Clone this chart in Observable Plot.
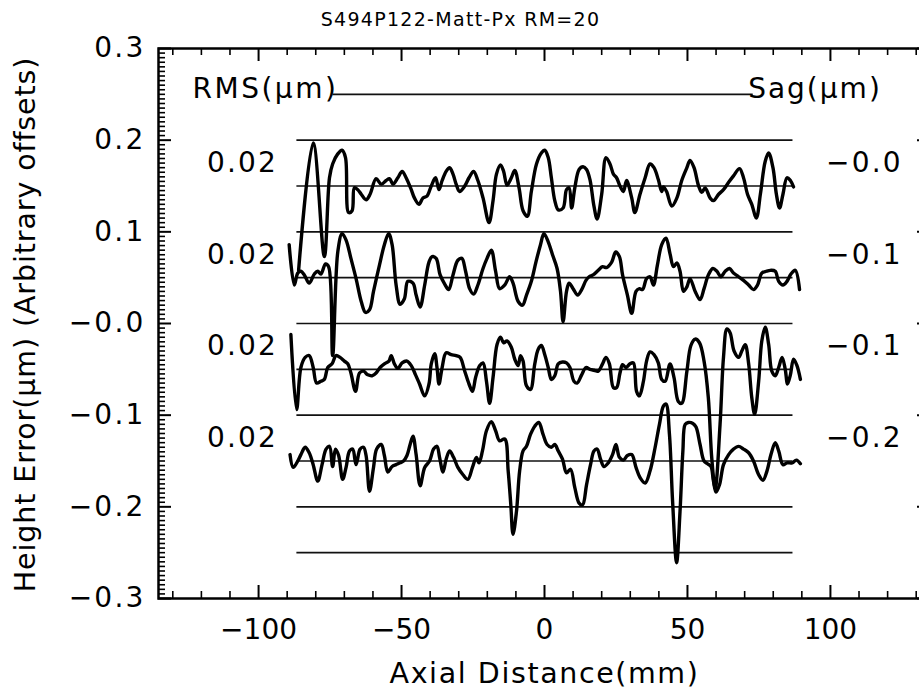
<!DOCTYPE html>
<html><head><meta charset="utf-8">
<script src="https://cdn.jsdelivr.net/npm/d3@7"></script>
<script src="https://cdn.jsdelivr.net/npm/@observablehq/plot@0.6"></script>
<style>html,body{margin:0;padding:0;background:#fff;overflow:hidden}svg{display:block}</style>
</head><body><div id="chart"></div>
<script>
// ---- text ----
const chartTitle = "S494P122-Matt-Px RM=20";
const xTitle = "Axial Distance(mm)";
const yTitle = "Height Error(μm) (Arbitrary offsets)";
const rmsHeader = "RMS(μm)";
const sagHeader = "Sag(μm)";
const rmsLabels = ["0.02", "0.02", "0.02", "0.02"];
const sagLabels = ["−0.0", "−0.1", "−0.1", "−0.2"];

// ---- ticks ----
const xMajor = [-100, -50, 0, 50, 100];
const xTickLabels = ["−100", "−50", "0", "50", "100"];
const xMinor = [-130,-120,-110,-90,-80,-70,-60,-40,-30,-20,-10,10,20,30,40,60,70,80,90,110,120,130];
const yMajor = [0.3, 0.2, 0.1, 0, -0.1, -0.2, -0.3];
const yTickLabels = ["0.3", "0.2", "0.1", "−0.0", "−0.1", "−0.2", "−0.3"];

// ---- reference lines & offsets ----
const refLevels = [0.2, 0.15, 0.1, 0.05, 0, -0.05, -0.1, -0.15, -0.2, -0.25];
const topRefLevel = [0.25];
const offsets = [0.15, 0.05, -0.05, -0.15];

// ---- profiles: [axial distance mm, height error µm] ----
const profileA = [[-86.0,-0.092],[-80.9,0.047],[-77.0,-0.077],[-75.2,0.009],[-74.1,0.024],[-72.3,0.035],[-70.8,0.039],[-69.6,0.031],[-68.5,-0.029],[-67.3,-0.027],[-66.5,-0.002],[-65.3,-0.004],[-64.1,-0.009],[-62.4,-0.015],[-61.0,-0.009],[-58.9,0.008],[-57.1,0.002],[-55.4,0.006],[-54.2,0.008],[-53.0,0.002],[-51.3,0.009],[-49.8,0.016],[-48.4,0.009],[-46.6,-0.004],[-45.5,-0.013],[-43.9,-0.020],[-42.5,-0.013],[-41.1,-0.011],[-39.6,0.000],[-38.1,0.009],[-36.9,-0.004],[-35.8,0.006],[-34.4,0.016],[-33.2,0.020],[-32.0,0.013],[-30.9,0.002],[-29.7,-0.006],[-27.9,0.000],[-26.4,0.009],[-24.8,0.016],[-23.3,0.006],[-21.5,-0.013],[-19.4,-0.040],[-18.0,-0.016],[-16.8,0.013],[-15.4,0.023],[-14.3,0.016],[-13.1,0.001],[-11.6,0.009],[-10.4,0.017],[-8.9,-0.002],[-7.5,-0.027],[-6.0,-0.033],[-4.6,-0.006],[-2.8,0.024],[-1.1,0.036],[0.1,0.039],[1.3,0.031],[2.4,0.009],[3.6,-0.016],[4.8,-0.026],[6.5,-0.024],[7.7,-0.004],[8.6,-0.002],[9.5,-0.024],[10.6,-0.002],[12.1,0.018],[13.5,0.021],[14.7,0.018],[15.9,0.007],[17.3,-0.022],[18.4,-0.036],[20.0,-0.009],[21.5,0.031],[22.9,0.024],[24.1,0.013],[25.2,0.009],[26.4,0.000],[27.6,-0.006],[28.7,0.006],[30.5,-0.013],[31.6,-0.029],[33.4,-0.009],[35.2,0.009],[36.9,0.024],[38.3,0.020],[39.8,0.007],[41.0,-0.006],[41.6,-0.001],[42.7,-0.006],[44.5,-0.022],[46.3,-0.013],[48.0,0.006],[49.8,0.020],[50.9,0.028],[52.3,0.020],[53.9,0.000],[55.0,-0.007],[56.2,-0.002],[57.9,-0.013],[59.1,-0.016],[60.9,-0.009],[62.6,-0.004],[64.4,0.004],[66.1,0.011],[68.2,0.019],[69.6,0.009],[71.0,-0.009],[72.5,-0.020],[74.1,-0.035],[75.5,-0.009],[77.2,0.027],[78.4,0.036],[79.9,0.020],[81.1,-0.009],[82.2,-0.024],[83.4,-0.009],[84.8,0.009],[86.0,0.006],[87.1,-0.001]];

const profileB = [[-89.3,0.036],[-87.5,-0.008],[-86.3,0.005],[-85.2,0.007],[-84.0,0.003],[-82.3,-0.006],[-80.5,0.004],[-79.3,0.007],[-78.2,0.004],[-76.6,0.015],[-75.5,0.012],[-74.1,-0.085],[-72.3,0.028],[-70.8,0.048],[-69.4,0.041],[-67.7,0.021],[-65.9,-0.001],[-64.1,-0.026],[-62.6,-0.038],[-61.2,-0.035],[-59.8,-0.015],[-57.7,0.014],[-56.0,0.036],[-54.5,0.048],[-53.3,0.036],[-51.9,-0.008],[-50.5,-0.029],[-49.0,-0.023],[-47.8,-0.004],[-46.0,-0.006],[-44.9,-0.019],[-43.5,-0.032],[-41.9,-0.008],[-40.4,0.017],[-39.3,0.023],[-37.9,0.021],[-36.5,0.003],[-34.9,-0.007],[-33.5,-0.013],[-32.0,0.003],[-30.3,0.019],[-28.9,0.021],[-27.6,0.007],[-26.2,-0.012],[-24.8,-0.018],[-23.3,-0.008],[-21.5,0.010],[-20.1,0.021],[-18.6,0.030],[-17.1,0.007],[-15.7,-0.012],[-13.9,-0.008],[-12.2,0.001],[-11.0,-0.006],[-9.2,-0.026],[-7.7,-0.030],[-6.3,-0.019],[-4.6,-0.004],[-3.0,0.017],[-1.4,0.036],[-0.2,0.048],[1.3,0.039],[2.8,0.025],[4.4,0.010],[5.6,-0.015],[6.5,-0.048],[7.7,-0.015],[8.6,-0.006],[10.0,-0.012],[11.6,-0.019],[13.0,-0.013],[14.5,-0.003],[15.6,0.001],[17.0,0.003],[18.8,0.008],[20.3,0.012],[21.7,0.011],[23.5,0.017],[24.9,0.028],[26.2,0.023],[27.3,0.003],[29.0,-0.019],[30.5,-0.039],[32.0,-0.015],[33.2,-0.012],[34.3,-0.013],[35.7,-0.001],[36.9,0.001],[38.1,-0.008],[39.5,0.014],[41.0,0.036],[42.5,0.043],[43.9,0.026],[45.1,0.012],[46.3,0.016],[47.4,0.007],[48.6,-0.015],[49.8,-0.010],[50.9,-0.001],[52.7,-0.015],[54.4,-0.024],[55.8,-0.012],[57.3,0.003],[58.9,0.010],[60.3,0.007],[61.7,0.001],[63.2,0.007],[64.7,0.010],[66.1,0.005],[67.9,0.001],[69.6,-0.003],[71.4,-0.008],[73.1,-0.013],[74.5,-0.008],[76.0,0.005],[77.6,0.007],[79.0,0.008],[80.7,0.007],[81.9,-0.004],[83.4,-0.008],[84.8,-0.004],[86.2,0.004],[87.7,0.008],[89.2,-0.013]];

const profileC = [[-88.7,0.038],[-86.7,-0.044],[-85.2,0.002],[-83.7,0.013],[-82.3,0.015],[-80.9,0.002],[-79.7,-0.015],[-78.2,-0.013],[-77.0,-0.011],[-75.8,0.002],[-74.3,0.006],[-72.9,0.015],[-71.5,0.013],[-70.0,0.009],[-68.8,0.006],[-67.7,-0.004],[-66.1,-0.024],[-64.7,-0.004],[-63.3,-0.002],[-61.8,-0.006],[-60.3,-0.007],[-58.9,-0.004],[-57.5,0.002],[-56.0,0.006],[-54.4,0.009],[-53.6,0.015],[-52.5,0.006],[-51.3,0.001],[-49.8,0.007],[-48.1,0.009],[-46.6,0.004],[-45.1,-0.006],[-43.7,-0.016],[-41.9,-0.029],[-40.4,-0.016],[-39.6,0.006],[-38.4,0.017],[-37.6,0.002],[-36.9,-0.016],[-35.8,0.002],[-34.4,0.018],[-32.6,0.016],[-30.9,0.015],[-29.5,0.013],[-27.9,-0.002],[-26.4,-0.016],[-25.2,-0.024],[-24.1,-0.009],[-22.7,0.004],[-21.5,0.007],[-20.3,-0.013],[-19.2,-0.037],[-18.0,-0.009],[-16.6,0.027],[-15.4,0.035],[-14.3,0.029],[-13.1,0.031],[-11.6,0.024],[-10.4,0.011],[-9.2,0.004],[-8.4,0.015],[-7.5,0.009],[-6.3,-0.018],[-4.9,-0.022],[-3.4,0.006],[-2.2,0.022],[-1.1,0.026],[0.1,0.016],[1.3,0.002],[2.4,-0.011],[3.6,-0.007],[4.8,0.006],[6.3,0.008],[7.7,0.007],[8.9,0.002],[10.3,-0.013],[11.4,-0.015],[13.0,-0.006],[14.5,0.002],[15.9,0.000],[17.3,-0.001],[18.8,-0.002],[20.3,0.006],[21.5,0.013],[22.7,0.006],[24.1,-0.020],[25.2,-0.020],[26.4,-0.004],[27.3,0.005],[28.5,0.002],[29.9,0.006],[31.1,0.007],[32.2,-0.024],[33.2,-0.029],[34.6,-0.013],[35.7,0.009],[36.9,0.019],[38.3,0.016],[39.8,0.007],[41.0,-0.011],[42.2,-0.013],[43.9,0.006],[45.3,-0.009],[46.8,-0.035],[48.0,-0.037],[49.8,-0.002],[51.2,0.026],[52.7,0.033],[54.2,0.029],[55.8,0.009],[57.3,-0.031],[58.5,-0.097],[59.7,-0.130],[61.4,-0.060],[62.6,0.013],[63.8,0.044],[64.9,0.040],[66.3,0.020],[67.9,0.013],[69.0,0.020],[70.2,0.027],[71.4,0.006],[72.5,-0.031],[73.5,-0.049],[74.9,-0.013],[76.0,0.031],[77.2,0.046],[78.4,0.027],[79.5,-0.002],[80.7,-0.007],[81.9,0.002],[83.1,0.013],[84.2,0.000],[85.0,-0.016],[86.0,-0.006],[87.1,0.011],[88.3,0.004],[89.5,-0.011]];

const profileD = [[-89.0,0.007],[-87.9,-0.007],[-86.3,0.000],[-85.2,0.007],[-83.7,0.015],[-82.3,0.009],[-80.9,-0.004],[-79.3,-0.022],[-77.8,-0.004],[-76.4,0.013],[-75.2,0.016],[-74.1,-0.006],[-73.1,0.013],[-72.0,0.006],[-70.6,-0.020],[-69.4,-0.007],[-68.2,0.011],[-67.1,0.013],[-65.9,-0.004],[-64.5,0.013],[-63.3,0.015],[-62.4,0.006],[-61.2,-0.033],[-59.8,-0.007],[-58.7,0.013],[-57.1,0.018],[-56.0,0.006],[-54.8,-0.012],[-53.3,-0.006],[-51.9,-0.004],[-50.5,-0.002],[-49.3,0.000],[-48.1,0.006],[-47.0,0.018],[-46.0,0.027],[-44.9,0.007],[-43.5,-0.027],[-41.9,-0.007],[-40.2,0.000],[-38.8,0.013],[-37.6,0.016],[-36.7,0.004],[-35.5,-0.012],[-34.4,0.002],[-33.2,0.011],[-31.8,0.004],[-30.3,-0.007],[-28.5,-0.015],[-26.8,-0.020],[-25.2,-0.007],[-23.8,0.004],[-22.9,-0.002],[-21.7,0.011],[-20.3,0.033],[-18.6,0.043],[-17.1,0.033],[-15.7,0.022],[-13.9,0.024],[-12.7,-0.011],[-11.8,-0.047],[-11.0,-0.080],[-9.8,-0.055],[-8.7,-0.011],[-7.5,0.011],[-6.3,0.016],[-4.9,0.029],[-3.4,0.038],[-2.0,0.042],[-0.5,0.029],[0.9,0.018],[2.4,0.015],[3.6,0.018],[4.8,0.011],[6.3,0.002],[7.7,-0.013],[9.1,-0.009],[10.6,-0.029],[12.1,-0.046],[13.3,-0.048],[14.7,-0.026],[16.1,-0.004],[17.3,0.011],[18.4,0.013],[19.6,0.002],[20.8,-0.006],[22.3,-0.002],[23.8,0.007],[25.0,0.018],[26.2,0.004],[27.6,0.001],[29.0,0.006],[30.5,0.007],[32.0,-0.007],[33.4,-0.018],[35.2,-0.024],[36.9,-0.011],[38.7,0.015],[40.2,0.040],[41.6,0.060],[42.5,0.062],[43.7,0.029],[44.8,-0.044],[46.2,-0.111],[47.4,-0.055],[48.4,0.011],[49.2,0.040],[50.3,0.042],[51.9,0.041],[53.0,0.037],[54.4,0.018],[55.8,0.000],[57.0,-0.003],[58.2,-0.006],[59.1,-0.022],[60.0,-0.034],[61.2,-0.026],[62.6,-0.004],[64.4,0.007],[66.1,0.013],[67.9,0.016],[69.6,0.013],[71.4,0.009],[73.1,0.000],[74.9,-0.015],[76.4,-0.021],[77.8,-0.011],[79.2,0.007],[80.7,0.020],[81.9,0.011],[83.4,-0.004],[84.8,-0.002],[86.6,-0.002],[88.1,0.001],[89.5,-0.003]];

const profiles = [profileA, profileB, profileC, profileD];

// ---- layout ----
const W = 919, H = 691;
const mL = 158, mR = -11, mT = 48, mB = 93;
const plotW = W - mL - mR, plotH = H - mT - mB;
const majorLen = 13, minorLen = 7;
const FONT = "'DejaVu Sans', sans-serif";

const yMinor = d3.range(-60, 61).map(i => i * 0.005).filter(v => Math.abs(Math.round(v * 10) - v * 10) > 1e-6);

const rows = [];
profiles.forEach((p, k) => p.forEach(([x, h]) => rows.push({x, y: h + offsets[k], k})));

const T = {fill: "black", textAnchor: "middle", lineAnchor: "middle"};

const chart = Plot.plot({
  width: W, height: H,
  marginLeft: mL, marginRight: mR, marginTop: mT, marginBottom: mB,
  x: {domain: [-135, 135], axis: null},
  y: {domain: [-0.3, 0.3], axis: null},
  style: {fontFamily: FONT, background: "white", color: "black"},
  marks: [
    Plot.ruleY(refLevels, {y: d => d, x1: -86.6, x2: 86.9, stroke: "#111", strokeWidth: 1.6}),
    Plot.ruleY(topRefLevel, {y: d => d, x1: -74, x2: 73, stroke: "#111", strokeWidth: 1.6}),
    Plot.line(rows, {x: "x", y: "y", z: "k", stroke: "black", strokeWidth: 3.4, strokeLinejoin: "round", curve: "catmull-rom"}),
    Plot.frame({stroke: "black", strokeWidth: 2.5}),
    Plot.tickY(yMajor, {y: d => d, insetRight: plotW - majorLen, stroke: "black", strokeWidth: 2}),
    Plot.tickY(yMinor, {y: d => d, insetRight: plotW - minorLen, stroke: "black", strokeWidth: 1.6}),
    Plot.tickY(yMajor, {y: d => d, insetLeft: plotW - majorLen, stroke: "black", strokeWidth: 2}),
    Plot.tickY(yMinor, {y: d => d, insetLeft: plotW - minorLen, stroke: "black", strokeWidth: 1.6}),
    Plot.tickX(xMajor, {x: d => d, insetTop: plotH - majorLen, stroke: "black", strokeWidth: 2}),
    Plot.tickX(xMinor, {x: d => d, insetTop: plotH - minorLen, stroke: "black", strokeWidth: 1.6}),
    Plot.tickX(xMajor, {x: d => d, insetBottom: plotH - majorLen, stroke: "black", strokeWidth: 2}),
    Plot.tickX(xMinor, {x: d => d, insetBottom: plotH - minorLen, stroke: "black", strokeWidth: 1.6}),
    Plot.text(yMajor, {...T, y: d => d, text: (d, i) => yTickLabels[i], frameAnchor: "left", textAnchor: "end", dx: -13, fontSize: 28}),
    Plot.text(xMajor, {...T, x: d => d, text: (d, i) => xTickLabels[i], frameAnchor: "bottom", dy: 32, fontSize: 28}),
    Plot.text([xTitle], {...T, frameAnchor: "bottom", dy: 75, fontSize: 28.5}),
    Plot.text([yTitle], {...T, frameAnchor: "left", dx: -133, dy: 1, rotate: -90, fontSize: 28.5}),
    Plot.text([chartTitle], {...T, frameAnchor: "top", dx: -84, dy: -29, fontSize: 19}),
    Plot.text([rmsHeader], {...T, x: -97.6, y: 0.256, fontSize: 28}),
    Plot.text([sagHeader], {...T, x: 94.6, y: 0.256, fontSize: 28}),
    Plot.text(rmsLabels, {...T, x: -105.6, y: (d, i) => offsets[i] + 0.025, text: d => d, fontSize: 28}),
    Plot.text(sagLabels, {...T, x: 111.9, y: (d, i) => offsets[i] + 0.025, text: d => d, fontSize: 28})
  ]
});

// Wider letter spacing to mimic the wide vector font of the original
const spacing = new Map([
  [chartTitle, 1.3], [xTitle, 1.6], [yTitle, 0.9], [rmsHeader, 2.5], [sagHeader, 2]
]);
d3.select(chart).selectAll("text").each(function() {
  const s = this.textContent;
  let ls = spacing.get(s);
  if (ls === undefined) ls = (rmsLabels.includes(s) || sagLabels.includes(s) || yTickLabels.includes(s)) ? 2.2 : 0;
  if (ls) this.setAttribute("letter-spacing", ls);
});
document.getElementById("chart").appendChild(chart);
</script>
</body></html>
